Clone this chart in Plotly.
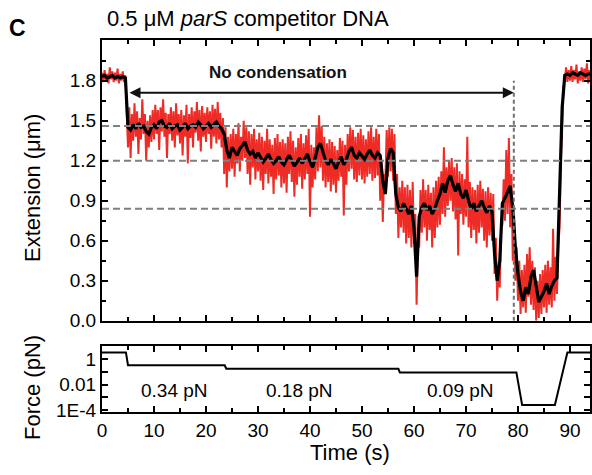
import numpy as np
import plotly.graph_objects as go

# ---------------- data ----------------
DT_RED = 0.25   # s, sampling of the raw (red) trace
DT_BLACK = 0.5  # s, sampling of the smoothed (black) trace

extension_raw = [
    1.86, 1.79, 1.88, 1.80, 1.85, 1.78, 1.90, 1.81, 1.87, 1.79,
    1.86, 1.80, 1.89, 1.78, 1.85, 1.80, 1.87, 1.79, 1.84, 1.60,
    1.30, 1.60, 1.22, 1.55, 1.35, 1.63, 1.38, 1.57, 1.25, 1.52,
    1.36, 1.66, 1.40, 1.55, 1.20, 1.50, 1.30, 1.54, 1.34, 1.58,
    1.36, 1.62, 1.40, 1.58, 1.28, 1.60, 1.42, 1.66, 1.38, 1.56,
    1.22, 1.55, 1.40, 1.60, 1.35, 1.57, 1.30, 1.63, 1.39, 1.55,
    1.33, 1.58, 1.24, 1.54, 1.38, 1.62, 1.18, 1.55, 1.37, 1.60,
    1.30, 1.57, 1.41, 1.64, 1.35, 1.58, 1.27, 1.61, 1.38, 1.56,
    1.34, 1.60, 1.40, 1.57, 1.29, 1.62, 1.38, 1.59, 1.33, 1.64,
    1.36, 1.56, 1.30, 1.52, 1.10, 1.45, 1.00, 1.38, 1.12, 1.40,
    1.14, 1.44, 1.08, 1.40, 1.18, 1.48, 1.12, 1.38, 1.20, 1.50,
    1.22, 1.45, 1.10, 1.42, 1.02, 1.40, 1.15, 1.44, 1.06, 1.36,
    1.12, 1.41, 1.05, 1.38, 0.98, 1.35, 1.10, 1.44, 1.03, 1.36,
    1.08, 1.32, 0.95, 1.37, 1.06, 1.40, 1.09, 1.34, 1.00, 1.36,
    1.03, 1.33, 0.96, 1.38, 1.10, 1.42, 1.04, 1.35, 0.93, 1.30,
    1.02, 1.37, 1.08, 1.40, 0.99, 1.33, 1.06, 1.39, 1.10, 1.44,
    0.78, 1.32, 1.00, 1.30, 1.06, 1.45, 1.12, 1.54, 1.15, 1.46,
    1.05, 1.38, 1.00, 1.33, 1.04, 1.36, 0.97, 1.34, 1.02, 1.31,
    0.96, 1.28, 1.05, 1.37, 1.08, 1.35, 0.79, 1.32, 1.02, 1.40,
    1.12, 1.45, 1.14, 1.43, 1.06, 1.38, 1.04, 1.41, 1.09, 1.44,
    1.06, 1.39, 1.03, 1.36, 1.08, 1.42, 1.10, 1.45, 1.05, 1.38,
    1.07, 1.44, 1.09, 1.40, 0.90, 1.20, 0.74, 1.10, 1.05, 1.43,
    1.08, 1.45, 1.12, 1.44, 1.05, 1.40, 0.80, 1.10, 0.62, 1.00,
    0.70, 1.05, 0.66, 1.00, 0.58, 1.02, 0.62, 0.98, 0.55, 1.04,
    0.58, 0.80, 0.12, 0.60, 0.55, 0.98, 0.66, 1.06, 0.70, 0.98,
    0.60, 1.02, 0.68, 0.96, 0.55, 1.00, 0.62, 1.05, 0.70, 1.08,
    0.72, 1.12, 0.80, 1.30, 0.78, 1.15, 0.86, 1.20, 0.90, 1.22,
    0.82, 1.15, 0.76, 1.18, 0.49, 1.12, 0.80, 1.10, 0.72, 1.06,
    0.78, 1.38, 0.70, 1.04, 0.62, 1.00, 0.68, 0.98, 0.58, 1.02,
    0.66, 1.05, 0.70, 0.99, 0.60, 0.97, 0.55, 1.00, 0.64, 0.96,
    0.60, 0.95, 0.35, 0.62, 0.15, 0.40, 0.25, 0.70, 0.72, 1.06,
    0.75, 1.28, 0.80, 1.37, 0.70, 1.10, 0.45, 0.80, 0.30, 0.55,
    0.15, 0.45, 0.05, 0.38, 0.10, 0.42, 0.06, 0.50, 0.18, 0.55,
    0.12, 0.45, 0.08, 0.40, 0.00, 0.30, 0.02, 0.35, 0.05, 0.38,
    0.10, 0.42, 0.06, 0.45, 0.12, 0.40, 0.10, 0.69, 0.15, 0.48,
    0.20, 0.55, 0.70, 1.20, 1.50, 1.75, 1.80, 1.90, 1.79, 1.88,
    1.80, 1.91, 1.79, 1.88, 1.81, 1.92, 1.78, 1.87, 1.80, 1.90,
    1.79, 1.89, 1.81, 1.93, 1.78, 1.88, 1.80,
]

extension_smooth = [
    1.83, 1.84, 1.82, 1.83, 1.84, 1.82, 1.83, 1.82, 1.83, 1.82,
    1.45, 1.43, 1.47, 1.44, 1.48, 1.45, 1.46, 1.42, 1.40, 1.45,
    1.47, 1.44, 1.49, 1.50, 1.46, 1.45, 1.48, 1.44, 1.46, 1.47,
    1.43, 1.45, 1.48, 1.44, 1.46, 1.47, 1.45, 1.49, 1.47, 1.44,
    1.46, 1.48, 1.45, 1.47, 1.49, 1.46, 1.44, 1.40, 1.28, 1.22,
    1.30, 1.27, 1.24, 1.29, 1.32, 1.34, 1.28, 1.25, 1.27, 1.22,
    1.26, 1.23, 1.19, 1.22, 1.25, 1.21, 1.18, 1.20, 1.23, 1.19,
    1.17, 1.21, 1.24, 1.20, 1.16, 1.19, 1.22, 1.18, 1.21, 1.25,
    1.19, 1.15, 1.22, 1.30, 1.33, 1.26, 1.20, 1.17, 1.21, 1.18,
    1.14, 1.19, 1.23, 1.17, 1.21, 1.27, 1.30, 1.24, 1.22, 1.26,
    1.23, 1.21, 1.25, 1.28, 1.24, 1.22, 1.26, 1.24, 1.05, 0.95,
    1.22, 1.29, 1.26, 0.95, 0.85, 0.82, 0.88, 0.84, 0.80, 0.86,
    0.70, 0.33, 0.78, 0.85, 0.88, 0.83, 0.86, 0.80, 0.84, 0.90,
    0.95, 1.03, 0.96, 1.05, 1.09, 1.02, 0.97, 1.03, 0.95, 0.92,
    0.98, 0.90, 0.84, 0.88, 0.82, 0.86, 0.90, 0.85, 0.81, 0.86,
    0.82, 0.50, 0.30, 0.45, 0.88, 0.92, 0.96, 1.01, 0.85, 0.55,
    0.35, 0.22, 0.15, 0.25, 0.20, 0.33, 0.38, 0.26, 0.14, 0.18,
    0.22, 0.28, 0.20, 0.26, 0.30, 0.32, 0.90, 1.60, 1.84, 1.85,
    1.84, 1.86, 1.85, 1.84, 1.86, 1.85, 1.84, 1.85, 1.85,
]

time_raw = np.arange(len(extension_raw)) * DT_RED
time_smooth = np.arange(len(extension_smooth)) * DT_BLACK

reference_levels = [1.46, 1.20, 0.84]       # um, dashed guide lines
marker_time = 79.2                          # s, dotted vertical line
marker_height = 1.80                        # um
arrow_t0, arrow_t1, arrow_level = 5.0, 79.2, 1.71
arrow_label = "No condensation"

force_time = [0, 4.6, 5.0, 23.6, 23.9, 57.0, 57.3, 79.7, 80.8, 87.1, 89.5, 94.0]
force_value = [3.5, 3.5, 0.34, 0.34, 0.18, 0.18, 0.09, 0.09, 2.5e-4, 2.5e-4, 3.5, 3.5]
force_labels = ["0.34 pN", "0.18 pN", "0.09 pN"]
force_label_time = [14.0, 38.0, 69.0]
force_label_level = 0.0035

x_ticks = [0, 10, 20, 30, 40, 50, 60, 70, 80, 90]
ext_ticks = [0.0, 0.3, 0.6, 0.9, 1.2, 1.5, 1.8]
force_ticks = [1, 0.01, 1e-4]
force_tick_text = ["1", "0.01", "1E-4"]

# ---------------- figure ----------------
RED = "#EE2B24"
FONT = "Liberation Sans, Arial, Helvetica, sans-serif"

fig = go.Figure()
fig.add_trace(go.Scatter(x=time_raw, y=extension_raw, mode="lines",
                         line=dict(color=RED, width=2.0), xaxis="x", yaxis="y",
                         hoverinfo="skip"))
fig.add_trace(go.Scatter(x=time_smooth, y=extension_smooth, mode="lines",
                         line=dict(color="black", width=3.2), xaxis="x", yaxis="y"))
for lev in reference_levels:
    fig.add_trace(go.Scatter(x=[time_raw[0], time_raw[-1]], y=[lev, lev], mode="lines",
                             line=dict(color="#808080", width=2, dash="7px,4px"),
                             xaxis="x", yaxis="y"))
fig.add_trace(go.Scatter(x=[marker_time, marker_time], y=[0, marker_height], mode="lines",
                         line=dict(color="#707070", width=2, dash="4px,3px"),
                         xaxis="x", yaxis="y"))
fig.add_trace(go.Scatter(x=force_time, y=force_value, mode="lines",
                         line=dict(color="black", width=2), xaxis="x2", yaxis="y2"))

axis_common = dict(showline=True, linewidth=2, linecolor="black", mirror="allticks",
                   ticks="inside", ticklen=6, tickwidth=2, tickcolor="black",
                   showgrid=False, zeroline=False, automargin=False,
                   tickfont=dict(family=FONT, size=19, color="black"))

H_PLOT = 475 - 40 - 63

fig.update_layout(
    width=592, height=475,
    margin=dict(l=102, r=2, t=40, b=63),
    plot_bgcolor="white", paper_bgcolor="white",
    showlegend=False,
    font=dict(family=FONT, size=19, color="black"),
    xaxis=dict(axis_common, domain=[0, 1], anchor="y", range=[0, 93.85],
               tickvals=x_ticks, showticklabels=False,
               minor=dict(dtick=5, tick0=0, ticks="inside", ticklen=4, tickwidth=1.5,
                          tickcolor="black")),
    yaxis=dict(axis_common, domain=[0.2454, 1], anchor="x", range=[0, 2.105],
               tickvals=ext_ticks, tickformat=".1f",
               minor=dict(dtick=0.15, tick0=0, ticks="inside", ticklen=4, tickwidth=1.5,
                          tickcolor="black")),
    xaxis2=dict(axis_common, domain=[0, 1], anchor="y2", range=[0, 93.85],
                tickvals=x_ticks,
                minor=dict(dtick=5, tick0=0, ticks="inside", ticklen=4, tickwidth=1.5,
                           tickcolor="black")),
    yaxis2=dict(axis_common, domain=[0, 66 / H_PLOT], anchor="x2", type="log",
                range=[-4.15, 1.05], tickvals=force_ticks, ticktext=force_tick_text,
                minor=dict(tickvals=[10, 0.1, 0.001], ticks="inside", ticklen=6,
                           tickwidth=2, tickcolor="black")),
)

def py(pix):
    return (475 - 63 - pix) / H_PLOT

def px(pix):
    return (pix - 102) / (592 - 102 - 2)

annotations = [
    dict(text="<b>C</b>", x=px(17), y=py(28), xref="paper", yref="paper",
         xanchor="center", yanchor="middle", showarrow=False,
         font=dict(family=FONT, size=23, color="black")),
    dict(text="0.5 \u03bcM <i>parS</i> competitor DNA", x=px(105), y=py(18),
         xref="paper", yref="paper", xanchor="left", yanchor="middle", showarrow=False,
         font=dict(family=FONT, size=22, color="black")),
    dict(text="Extension (\u03bcm)", x=px(32), y=py(188), xref="paper", yref="paper",
         textangle=-90, xanchor="center", yanchor="middle", showarrow=False,
         font=dict(family=FONT, size=22, color="black")),
    dict(text="Force (pN)", x=px(32), y=py(388), xref="paper", yref="paper",
         textangle=-90, xanchor="center", yanchor="middle", showarrow=False,
         font=dict(family=FONT, size=22, color="black")),
    dict(text="Time (s)", x=px(350), y=py(453), xref="paper", yref="paper",
         xanchor="center", yanchor="middle", showarrow=False,
         font=dict(family=FONT, size=22, color="black")),
    dict(text="<b>" + arrow_label + "</b>", x=(arrow_t0 + arrow_t1) / 2 - 8.3, y=1.86,
         xref="x", yref="y", xanchor="center", yanchor="middle", showarrow=False,
         font=dict(family=FONT, size=17, color="#111")),
    dict(text="", x=arrow_t1, y=arrow_level, ax=arrow_t0, ay=arrow_level,
         xref="x", yref="y", axref="x", ayref="y", showarrow=True,
         arrowhead=2, startarrowhead=2, arrowside="end+start", arrowwidth=2,
         arrowsize=1.1, startarrowsize=1.1, arrowcolor="#111"),
]
for lab, t in zip(force_labels, force_label_time):
    annotations.append(dict(text=lab, x=t, y=np.log10(force_label_level), xref="x2", yref="y2",
                            xanchor="center", yanchor="middle", showarrow=False,
                            font=dict(family=FONT, size=19, color="black")))
fig.update_layout(annotations=annotations)

fig.write_html("out.html", config={"displayModeBar": False},
               post_script="document.body.style.margin='0';document.body.style.overflow='hidden';")
